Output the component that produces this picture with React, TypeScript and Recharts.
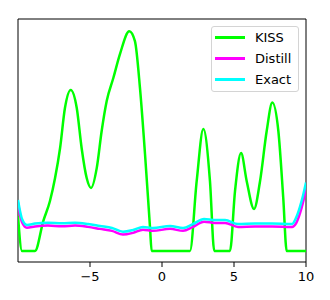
import { LineChart, Line, XAxis, YAxis, ReferenceArea } from 'recharts'

// KISS (green)
const kissX = [-10, -9.72, -8.82, -8.24, -7.78, -7.43, -7.08, -6.74, -6.34, -5.92, -5.58, -5.23, -4.93, -4.53, -4.19, -3.84, -3.38, -2.92, -2.27, -1.88, -1.53, -1.18, -0.83, -0.72, 1.94, 2.41, 2.87, 3.33, 3.63, 4.72, 5.07, 5.49, 5.88, 6.39, 6.81, 7.27, 7.66, 8.08, 8.42, 8.66, 10]
const kissY = [0.158, 0, 0, 0.136, 0.226, 0.329, 0.465, 0.647, 0.729, 0.647, 0.465, 0.33, 0.285, 0.376, 0.543, 0.679, 0.783, 0.891, 0.995, 0.95, 0.738, 0.439, 0.104, 0, 0, 0.317, 0.552, 0.317, 0, 0, 0.271, 0.443, 0.317, 0.19, 0.317, 0.543, 0.672, 0.543, 0.24, 0, 0]

// Exact (cyan)
const exactX = [-10, -9.86, -9.72, -9.38, -8.82, -7.92, -6.94, -6.04, -5.14, -4.31, -3.47, -2.71, -2.01, -1.32, -0.63, 0.56, 1.46, 2.15, 2.92, 3.68, 4.38, 5.28, 6.46, 7.64, 9.03, 9.31, 9.58, 9.79, 10]
const exactY = [0.231, 0.181, 0.145, 0.118, 0.124, 0.128, 0.125, 0.128, 0.122, 0.113, 0.104, 0.087, 0.095, 0.109, 0.104, 0.113, 0.104, 0.122, 0.145, 0.14, 0.14, 0.122, 0.124, 0.124, 0.122, 0.15, 0.2, 0.25, 0.31]

// Distill (magenta)
const distillX = [-10, -9.86, -9.72, -9.38, -8.82, -7.92, -6.94, -6.04, -5.14, -4.31, -3.47, -2.71, -2.01, -1.32, -0.63, 0.56, 1.46, 2.15, 2.92, 3.68, 4.38, 5.28, 6.46, 7.64, 9.03, 9.31, 9.58, 9.79, 10]
const distillY = [0.22, 0.165, 0.13, 0.105, 0.111, 0.115, 0.112, 0.115, 0.109, 0.1, 0.091, 0.074, 0.082, 0.096, 0.091, 0.1, 0.091, 0.109, 0.132, 0.127, 0.127, 0.109, 0.111, 0.111, 0.109, 0.125, 0.17, 0.22, 0.28]

const xTicks = [-5, 0, 5, 10]

const legendItems = [
  { name: 'KISS', color: '#00ff00' },
  { name: 'Distill', color: '#ff00ff' },
  { name: 'Exact', color: '#00ffff' },
]

const toPoints = (xs: number[], ys: number[]) => xs.map((x, i) => ({ x, y: ys[i] }))

const font = '"DejaVu Sans", sans-serif'

export default function App() {
  const kiss = toPoints(kissX, kissY)
  const exact = toPoints(exactX, exactY)
  const distill = toPoints(distillX, distillY)

  return (
    <div style={{ position: 'absolute', left: 0, top: 0, width: 330, height: 300, background: '#fff' }}>
      <LineChart width={330} height={300} margin={{ top: 19, right: 24, left: 18, bottom: 0 }}>
        <XAxis
          dataKey="x"
          type="number"
          domain={[-10, 10]}
          ticks={xTicks}
          allowDataOverflow
          height={38}
          axisLine={false}
          tickLine={{ stroke: '#000' }}
          tickSize={5}
          tickMargin={5}
          tick={{ fill: '#000', fontSize: 13, fontFamily: font }}
          tickFormatter={(v: number) => (v < 0 ? '\u2212' + Math.abs(v) : String(v))}
        />
        <YAxis type="number" domain={[-0.05, 1.05]} hide allowDataOverflow />
        <Line data={kiss} dataKey="y" type="monotone" stroke="#00ff00" strokeWidth={2.5} dot={false} isAnimationActive={false} />
        <Line data={distill} dataKey="y" type="monotone" stroke="#ff00ff" strokeWidth={2.5} dot={false} isAnimationActive={false} />
        <Line data={exact} dataKey="y" type="monotone" stroke="#00ffff" strokeWidth={2.5} dot={false} isAnimationActive={false} />
        <ReferenceArea x1={-10} x2={10} y1={-0.05} y2={1.05} fill="none" stroke="#000" strokeWidth={1} ifOverflow="visible" />
      </LineChart>
      <div
        style={{
          position: 'absolute',
          left: 211,
          top: 26,
          width: 86,
          height: 64,
          border: '1px solid #d4d4d4',
          borderRadius: 3,
          background: 'rgba(255,255,255,0.8)',
          fontFamily: font,
          fontSize: 13,
          color: '#000',
        }}
      >
        {legendItems.map((item, i) => (
          <div key={item.name} style={{ position: 'absolute', left: 3, top: 3 + i * 21, height: 15, display: 'flex', alignItems: 'center' }}>
            <div style={{ width: 30, height: 3, background: item.color }} />
            <span style={{ marginLeft: 10, lineHeight: '15px' }}>{item.name}</span>
          </div>
        ))}
      </div>
    </div>
  )
}
